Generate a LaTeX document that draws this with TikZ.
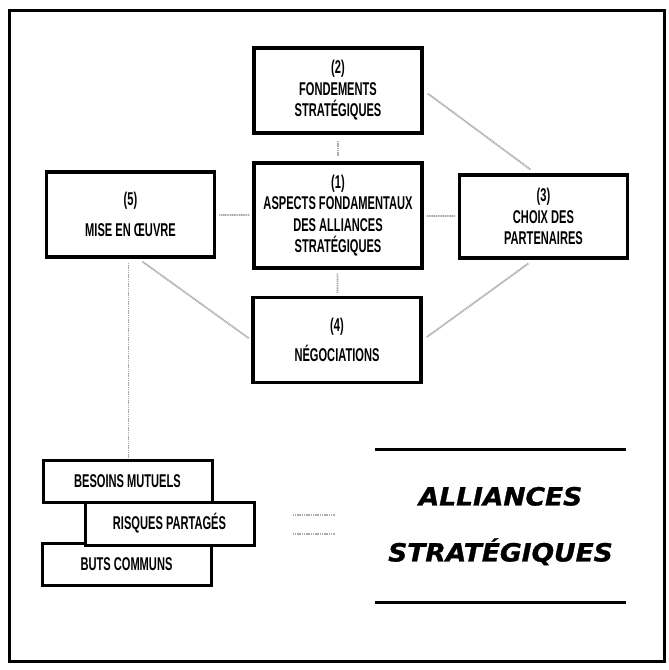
\documentclass[tikz,border=0pt]{standalone}
\usepackage{fontspec}
\setmainfont{Liberation Sans}[FakeStretch=0.6]
\newfontfamily\titlefont{DejaVu Sans}[FakeStretch=1.06,FakeBold=1.2]
\usepackage{tikz}

\tikzset{
  box/.style={draw, line width=3.5pt, fill=white, align=center, inner sep=0pt,
              font=\bfseries\fontsize{18.5}{21.5}\selectfont},
  mainbox/.style={box, minimum width=168pt, minimum height=85pt},
  smallbox/.style={box, line width=3pt, minimum width=169pt, minimum height=42pt},
  link/.style={gray!65, line width=1.8pt, dash pattern=on 1.2pt off 0.6pt},
  rule/.style={line width=3pt}
}

\begin{document}
\begin{tikzpicture}[x=1pt,y=-1pt]
  \useasboundingbox (0,0) rectangle (669,670);
  \draw[line width=3pt] (9,10) rectangle (664,661);

  % the five aspects
  \node[mainbox] (fond) at (338,90.5) {(2)\\FONDEMENTS\\STRATÉGIQUES};
  \node[mainbox, minimum height=105pt] (aspects) at (338,215.5)
       {(1)\\ASPECTS FONDAMENTAUX\\DES ALLIANCES\\STRATÉGIQUES};
  \node[mainbox] (mise) at (130.5,214.5) {(5)\\[10pt]MISE EN ŒUVRE};
  \node[mainbox, minimum height=83pt] (choix) at (543.5,216.5) {(3)\\CHOIX DES\\PARTENAIRES};
  \node[mainbox] (nego) at (337,340) {(4)\\[8pt]NÉGOCIATIONS};

  \draw[link, shorten <=6pt, shorten >=5pt] (fond) -- (aspects);
  \draw[link, shorten <=4pt, shorten >=3pt] (aspects) -- (nego);
  \draw[link, shorten <=3pt, shorten >=3pt] (mise) -- (aspects);
  \draw[link, shorten <=3pt, shorten >=3pt] (aspects) -- (choix);
  \draw[link, shorten <=5pt, shorten >=6pt] (fond.east) -- ([xshift=-8pt]choix.north);
  \draw[link, shorten <=5pt, shorten >=3pt] ([xshift=8pt]mise.south) -- (nego.west);
  \draw[link, shorten <=5pt, shorten >=6pt] (nego.east) -- ([xshift=-10pt]choix.south);
  \draw[link, shorten <=4pt, shorten >=2pt] ([xshift=-2pt]mise.south) -- ([xshift=-2pt]mise.south |- 0,460);

  % the three conditions
  \node[smallbox] (besoins) at (127.5,481) {BESOINS MUTUELS};
  \node[smallbox] (buts) at (126.5,564) {BUTS COMMUNS};
  \node[smallbox, minimum height=43pt] (risques) at (169.5,523.5) {RISQUES PARTAGÉS};

  \coordinate (eqa) at (293,515);
  \coordinate (eqb) at (335,515);
  \coordinate (eqc) at (293,534);
  \coordinate (eqd) at (335,534);
  \draw[link, line width=1.3pt] (eqa) -- (eqb);
  \draw[link, line width=1.3pt] (eqc) -- (eqd);

  % title
  \node[minimum width=251pt, minimum height=152pt, inner sep=0pt, align=center,
        font=\titlefont\bfseries\itshape\fontsize{25}{56}\selectfont]
       (title) at (500.5,526) {ALLIANCES\\STRATÉGIQUES};
  \draw[rule] (title.north west) -- (title.north east);
  \draw[rule] (title.south west) -- (title.south east);
\end{tikzpicture}
\end{document}
